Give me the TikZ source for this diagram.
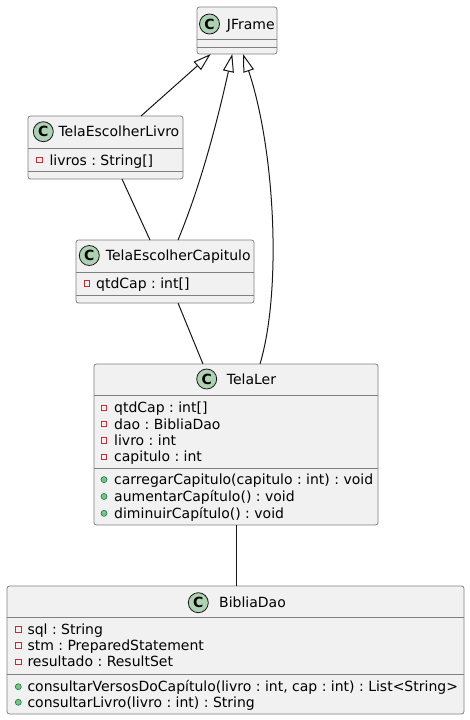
\documentclass[tikz,border=0pt]{standalone}
\usepackage{fontspec}
\setmainfont{DejaVu Sans}
\usetikzlibrary{arrows.meta}

\definecolor{clsfill}{HTML}{F1F1F1}
\definecolor{clsline}{HTML}{181818}
\definecolor{spotfill}{HTML}{ADD1B2}
\definecolor{privred}{HTML}{C82930}
\definecolor{pubfill}{HTML}{84BE84}
\definecolor{publine}{HTML}{038048}

\tikzset{
  cls/.style={draw=clsline!55, fill=clsfill, line width=0.8pt, rounded corners=2.5pt,
              anchor=north west, inner sep=0pt, outer sep=0pt},
  sepline/.style={draw=clsline!55, line width=0.8pt},
  spot/.style={circle, draw=clsline, fill=spotfill, line width=0.8pt, minimum size=20pt,
               inner sep=0pt, font=\fontsize{14pt}{14pt}\selectfont\bfseries},
  txt/.style={anchor=base west, inner sep=0pt, font=\fontsize{14pt}{16pt}\selectfont\frenchspacing},
  priv/.style={rectangle, draw=privred, line width=0.8pt, minimum size=5.5pt, inner sep=0pt},
  pub/.style={circle, fill=pubfill, draw=publine, line width=0.6pt, minimum size=6pt, inner sep=0pt},
  link/.style={draw=clsline, line width=1pt},
  inherit/.style={link, -{Triangle[length=18pt, width=11pt, fill=white]}},
}

\begin{document}
\frenchspacing
\begin{tikzpicture}[x=1pt, y=-1pt]
  \fill[white] (0,0) rectangle (470,720);
  \useasboundingbox (0,0) rectangle (470,720);

  % ---- JFrame ----
  \node[cls, minimum width=80pt, minimum height=47pt] (jframe) at (197,7) {};
  \draw[sepline] (jframe.west |- 0,39) -- (jframe.east |- 0,39);
  \draw[sepline] (jframe.west |- 0,47) -- (jframe.east |- 0,47);
  \node[spot] (jframe-spot) at (209.5,24) {C};
  \node[txt] (jframe-name) at (226.7,29) {JFrame};

  % ---- TelaEscolherLivro ----
  \node[cls, minimum width=155pt, minimum height=63pt] (elivro) at (28,116) {};
  \draw[sepline] (elivro.west |- 0,148) -- (elivro.east |- 0,148);
  \draw[sepline] (elivro.west |- 0,171) -- (elivro.east |- 0,171);
  \node[spot] (elivro-spot) at (43.3,131.7) {C};
  \node[txt] (elivro-name) at (58.3,136.8) {TelaEscolherLivro};
  \node[priv] (elivro-m1) at (39.2,160) {};
  \node[txt] (elivro-a1) at (49.3,165) {livros : String[]};

  % ---- TelaEscolherCapitulo ----
  \node[cls, minimum width=178pt, minimum height=63pt] (ecap) at (76,240) {};
  \draw[sepline] (ecap.west |- 0,272) -- (ecap.east |- 0,272);
  \draw[sepline] (ecap.west |- 0,295) -- (ecap.east |- 0,295);
  \node[spot] (ecap-spot) at (89.3,255.5) {C};
  \node[txt] (ecap-name) at (105.7,260.6) {TelaEscolherCapitulo};
  \node[priv] (ecap-m1) at (86.7,283.3) {};
  \node[txt] (ecap-a1) at (96,288.3) {qtdCap : int[]};

  % ---- TelaLer ----
  \node[cls, minimum width=284pt, minimum height=161pt] (telaler) at (94,364) {};
  \draw[sepline] (telaler.west |- 0,395) -- (telaler.east |- 0,395);
  \draw[sepline] (telaler.west |- 0,468) -- (telaler.east |- 0,468);
  \node[spot] (telaler-spot) at (206.7,379) {C};
  \node[txt] (telaler-name) at (226.7,384.1) {TelaLer};
  \node[priv] (telaler-m1) at (104,407.7) {};
  \node[txt] (telaler-a1) at (114,412.7) {qtdCap : int[]};
  \node[priv] (telaler-m2) at (104,424) {};
  \node[txt] (telaler-a2) at (114,429) {dao : BibliaDao};
  \node[priv] (telaler-m3) at (104,440.3) {};
  \node[txt] (telaler-a3) at (114,445.3) {livro : int};
  \node[priv] (telaler-m4) at (104,456.7) {};
  \node[txt] (telaler-a4) at (114,461.7) {capitulo : int};
  \node[pub] (telaler-p1) at (104,479.6) {};
  \node[txt] (telaler-o1) at (114,484.6) {carregarCapitulo(capitulo : int) : void};
  \node[pub] (telaler-p2) at (104,496.5) {};
  \node[txt] (telaler-o2) at (114,501.5) {aumentarCapítulo() : void};
  \node[pub] (telaler-p3) at (104,513.3) {};
  \node[txt] (telaler-o3) at (114,518.3) {diminuirCapítulo() : void};

  % ---- BibliaDao ----
  \node[cls, minimum width=457pt, minimum height=128pt] (dao) at (7,586) {};
  \draw[sepline] (dao.west |- 0,617) -- (dao.east |- 0,617);
  \draw[sepline] (dao.west |- 0,674) -- (dao.east |- 0,674);
  \node[spot] (dao-spot) at (198.3,602.7) {C};
  \node[txt] (dao-name) at (219,607.8) {BibliaDao};
  \node[priv] (dao-m1) at (18.3,629.3) {};
  \node[txt] (dao-a1) at (27.3,634.3) {sql : String};
  \node[priv] (dao-m2) at (18.3,645.6) {};
  \node[txt] (dao-a2) at (27.3,650.6) {stm : PreparedStatement};
  \node[priv] (dao-m3) at (18.3,661.8) {};
  \node[txt] (dao-a3) at (27.3,666.8) {resultado : ResultSet};
  \node[pub] (dao-p1) at (18.3,686.7) {};
  \node[txt] (dao-o1) at (27.3,691.7) {consultarVersosDoCapítulo(livro : int, cap : int) : List<String>};
  \node[pub] (dao-p2) at (18.3,702.3) {};
  \node[txt] (dao-o2) at (27.3,707.3) {consultarLivro(livro : int) : String};

  % ---- generalisations towards JFrame ----
  \draw[inherit] ([xshift=113pt]elivro.north west) -- ([xshift=13.7pt]jframe.south west);
  \draw[inherit] ([xshift=102pt]ecap.north west)
      .. controls (205,175) and (222,100) .. ([xshift=35.3pt]jframe.south west);
  \draw[inherit] ([xshift=166pt]telaler.north west)
      .. controls (282,290) and (275,150) .. ([xshift=46pt]jframe.south west);

  % ---- plain associations ----
  \draw[link] ([xshift=94pt]elivro.south west) -- ([xshift=74pt]ecap.north west);
  \draw[link] ([xshift=102pt]ecap.south west) -- ([xshift=109pt]telaler.north west);
  \draw[link] ([xshift=142pt]telaler.south west) -- ([xshift=229pt]dao.north west);
\end{tikzpicture}
\end{document}
